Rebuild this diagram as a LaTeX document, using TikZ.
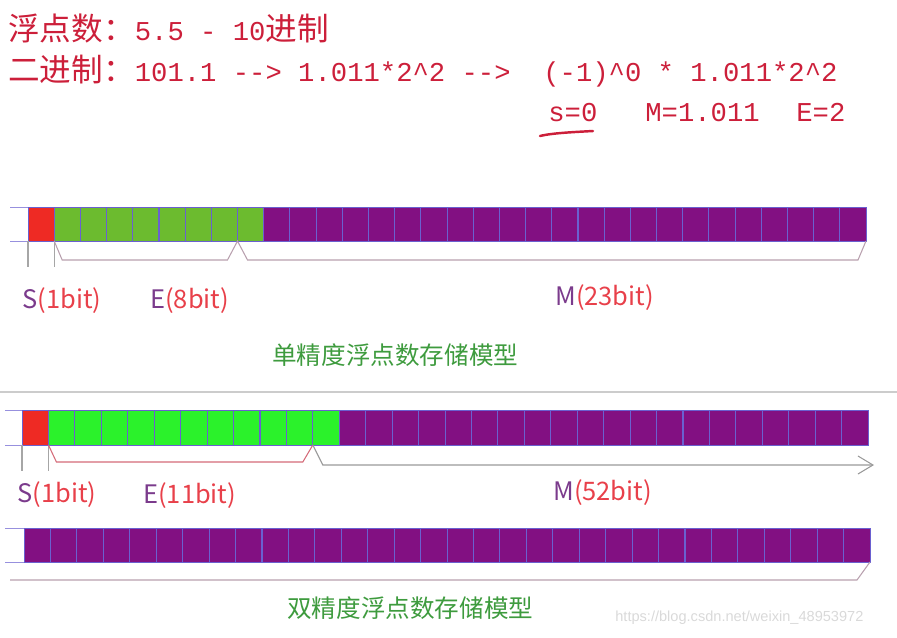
\documentclass[tikz,border=0pt]{standalone}
\usepackage{fontspec}
\setmonofont{Liberation Mono}
\newfontfamily\cjk{Noto Sans CJK SC}
\newfontfamily\urlfont{Liberation Sans}
\usetikzlibrary{arrows.meta, calc, positioning}

\definecolor{titlered}{HTML}{CC1F3A}
\definecolor{labpurple}{HTML}{7B3B8C}
\definecolor{labred}{HTML}{E8404A}
\definecolor{barred}{HTML}{EE2A24}
\definecolor{sgreen}{HTML}{6CBB2F}
\definecolor{dgreen}{HTML}{2BF22B}
\definecolor{barpurple}{HTML}{821082}
\definecolor{cellline}{HTML}{6A60D0}
\definecolor{bracegray}{HTML}{B8A0AE}
\definecolor{bracered}{HTML}{D46A78}
\definecolor{modelgreen}{HTML}{3E9B3E}

\newcommand{\zh}[1]{{\cjk\fontsize{18}{20}\selectfont #1}}
\newcommand{\mono}[1]{{\ttfamily\fontsize{15.5}{18}\selectfont #1}}
\newcommand{\bitlab}[2]{\textcolor{labpurple}{#1}\textcolor{labred}{(#2)}}

\tikzset{
  cell/.style={draw=cellline, line width=0.5pt, inner sep=0pt, outer sep=0pt},
  brace/.style={draw=bracegray, line width=0.6pt},
  tick/.style={draw=gray!70, line width=0.6pt},
  rail/.style={draw=cellline!70, line width=0.5pt},
  bitlabel/.style={font=\cjk\fontsize{14.5}{16}\selectfont, anchor=base west, inner sep=0pt},
  modeltitle/.style={font=\cjk\fontsize{14}{16}\selectfont, text=modelgreen, anchor=west, inner sep=0pt},
  formula/.style={text=titlered, anchor=base west, inner sep=0pt}
}

\begin{document}
\begin{tikzpicture}[x=0.02cm, y=-0.02cm]
  \useasboundingbox (0,0) rectangle (897,637);

  % Formula lines
  \node[formula] (dec) at (8,40) {\zh{浮点数：}\mono{5.5 - 10}\zh{进制}};
  \node[formula] (bin) at (8,81) {\zh{二进制：}\mono{101.1 --> 1.011*2\textasciicircum2 -->\ \ (-1)\textasciicircum0 * 1.011*2\textasciicircum2}};
  \node[formula] (sval) at (548,121) {\mono{s=0}};
  \node[formula] (mval) at (645,121) {\mono{M=1.011}};
  \node[formula] (eval) at (796,121) {\mono{E=2}};
  \draw[titlered, line width=1.4pt, line cap=round] (540,136) .. controls (552,133) and (575,132) .. (593,131);

  % Single precision bar
  \foreach \i in {1,...,32}{
    \ifnum\i=1 \def\cfill{barred}\else\ifnum\i<10 \def\cfill{sgreen}\else\def\cfill{barpurple}\fi\fi
    \node[cell, fill=\cfill, minimum width=0.52375cm, minimum height=0.68cm] (sg-\i) at ({28+(\i-0.5)*26.1875},224) {};
  }
  \draw[rail] (sg-1.north west) -- ++(-18,0) (sg-1.south west) -- ++(-18,0);
  \draw[tick] (sg-1.south west) -- ++(0,26) (sg-1.south east) -- ++(0,26);
  \draw[brace] (sg-1.south east) -- ++(8,19) -- ($(sg-9.south west)+(-10,19)$) -- (sg-9.south west)
    -- ++(10,19) -- ($(sg-32.south east)+(-8,19)$) -- (sg-32.south east);

  \node[bitlabel] (sgs) at (22,308) {\bitlab{S}{1bit}};
  \node[bitlabel] (sge) at (150,308) {\bitlab{E}{8bit}};
  \node[bitlabel] (sgm) at (555,305) {\bitlab{M}{23bit}};
  \node[modeltitle] (sgtitle) at (272,355) {单精度浮点数存储模型};

  % Separator
  \draw[gray!40, line width=0.8pt] (0,392) -- (897,392);

  % Double precision bar
  \foreach \i in {1,...,32}{
    \ifnum\i=1 \def\cfill{barred}\else\ifnum\i<13 \def\cfill{dgreen}\else\def\cfill{barpurple}\fi\fi
    \node[cell, fill=\cfill, minimum width=0.52875cm, minimum height=0.70cm] (db-\i) at ({22+(\i-0.5)*26.4375},427.5) {};
  }
  \draw[rail] (db-1.north west) -- ++(-17,0) (db-1.south west) -- ++(-17,0);
  \draw[tick] (db-1.south west) -- ++(0,26) (db-1.south east) -- ++(0,26);
  \draw[brace, draw=bracered] (db-1.south east) -- ++(8,17) -- ($(db-12.south west)+(-10,17)$) -- (db-12.south west);
  \draw[brace, draw=gray!80, -{Straight Barb[length=0.3cm, width=0.36cm]}] (db-12.south west) -- ++(10,20)
    -- ($(db-32.south east)+(6,20)$);

  \node[bitlabel] (dbs) at (17,502) {\bitlab{S}{1bit}};
  \node[bitlabel] (dbe) at (143,503) {\bitlab{E}{11bit}};
  \node[bitlabel] (dbm) at (553,500) {\bitlab{M}{52bit}};

  % Mantissa continued
  \foreach \i in {1,...,32}{
    \node[cell, fill=barpurple, minimum width=0.52875cm, minimum height=0.68cm] (dx-\i) at ({24+(\i-0.5)*26.4375},545) {};
  }
  \draw[rail] (dx-1.north west) -- ++(-19,0) (dx-1.south west) -- ++(-19,0);
  \draw[brace] ($(dx-1.south west)+(-14,18)$) -- ($(dx-32.south east)+(-13,18)$) -- (dx-32.south east);

  \node[modeltitle] (dbtitle) at (287,608) {双精度浮点数存储模型};
  \node[font=\urlfont\fontsize{8.3}{10}\selectfont, text=gray!30, anchor=west, inner sep=0pt] (url) at (615,618) {https://blog.csdn.net/weixin\_48953972};
\end{tikzpicture}
\end{document}
